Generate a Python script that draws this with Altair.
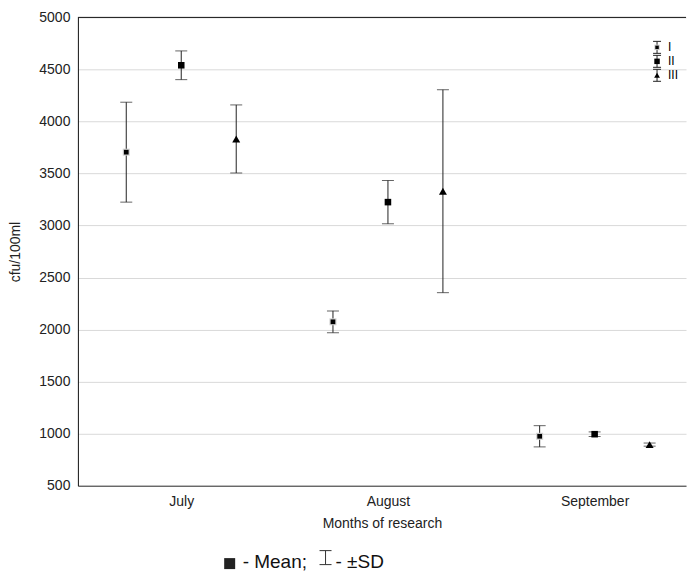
import altair as alt
import pandas as pd

# ---- data ----
months = ["July", "August", "September"]
series = ["I", "II", "III"]
mean_I = [3705, 2075, 975]
sd_I = [480, 105, 102]
mean_II = [4540, 3225, 995]
sd_II = [138, 208, 22]
mean_III = [3832, 3330, 895]
sd_III = [327, 975, 15]
y_ticks = [500, 1000, 1500, 2000, 2500, 3000, 3500, 4000, 4500, 5000]

# ---- layout / style constants ----
W, H = 609, 469
GROUP_OFFSET = 0.266
FONT = "Liberation Sans"
INK = "#222222"

means = {"I": mean_I, "II": mean_II, "III": mean_III}
sds = {"I": sd_I, "II": sd_II, "III": sd_III}
rows = []
for i, m in enumerate(months):
    for j, s in enumerate(series):
        mu, sd = means[s][i], sds[s][i]
        rows.append({"month": m, "series": s, "pos": i + 1 + GROUP_OFFSET * (j - 1),
                     "mean": mu, "lo": mu - sd, "hi": mu + sd})
df = pd.DataFrame(rows)

label_expr = "[" + ",".join("'" + m + "'" for m in months) + "][datum.value - 1]"
xs = alt.Scale(domain=[0.5, 0.5 + W / 207.0], nice=False, zero=False)
ys = alt.Scale(domain=[500, 5000], nice=False, zero=False)

X = alt.X("pos:Q", scale=xs, title="Months of research",
          axis=alt.Axis(values=[1, 2, 3], labelExpr=label_expr, grid=False, ticks=False,
                        labelPadding=9, titlePadding=8, domainColor="#333333"))
Y_axis = alt.Axis(values=y_ticks, grid=True, gridColor="#d9d9d9", ticks=False,
                  labelPadding=8, titlePadding=16, domainColor="#111111", format="d")

base = alt.Chart(df)

bars = base.mark_rule(color=INK, strokeWidth=1).encode(
    x=X, y=alt.Y("lo:Q", scale=ys, axis=Y_axis, title="cfu/100ml"), y2="hi:Q")
cap_lo = base.mark_tick(orient="horizontal", size=12, thickness=1, color=INK).encode(
    x="pos:Q", y="lo:Q")
cap_hi = base.mark_tick(orient="horizontal", size=12, thickness=1, color=INK).encode(
    x="pos:Q", y="hi:Q")

halo = base.transform_filter(alt.datum.series == "I").mark_point(
    shape="square", filled=True, size=49, color="#cfcfcf", opacity=1).encode(
    x="pos:Q", y="mean:Q")
pts = base.mark_point(filled=True, color="black", opacity=1).encode(
    x="pos:Q", y="mean:Q",
    shape=alt.Shape("series:N", scale=alt.Scale(domain=series, range=["square", "square", "triangle-up"]), legend=None),
    size=alt.Size("series:N", scale=alt.Scale(domain=series, range=[22, 64, 72]), legend=None),
)

dummy = alt.Chart(pd.DataFrame({"a": [0]}))
top_line = dummy.mark_rule(color="#111111", strokeWidth=1).encode(
    x=alt.value(0), x2=alt.value(W), y=alt.value(0))

# inset legend (top right)
leg_layers = []
leg_shapes = {"I": ("square", 12), "II": ("square", 30), "III": ("triangle-up", 34)}
for k, s in enumerate(series):
    cy = 30 + 14 * k
    cx = 580
    leg_layers.append(dummy.mark_rule(color=INK).encode(
        x=alt.value(cx), y=alt.value(cy - 6), y2=alt.value(cy + 6)))
    for yy in (cy - 6, cy + 6):
        leg_layers.append(dummy.mark_rule(color=INK).encode(
            x=alt.value(cx - 4), x2=alt.value(cx + 4), y=alt.value(yy)))
    if s == "I":
        leg_layers.append(dummy.mark_point(shape="square", filled=True, size=30,
                                           color="#cfcfcf", opacity=1).encode(
            x=alt.value(cx), y=alt.value(cy)))
    shp, sz = leg_shapes[s]
    leg_layers.append(dummy.mark_point(shape=shp, filled=True, size=sz,
                                       color="black", opacity=1).encode(
        x=alt.value(cx), y=alt.value(cy)))
    leg_layers.append(dummy.mark_text(text=s, align="left", baseline="middle", font=FONT,
                                      fontSize=12, fill="#000000").encode(
        x=alt.value(cx + 11), y=alt.value(cy)))

# caption under the chart
cap_y = H + 76
caption = [
    dummy.mark_point(shape="square", filled=True, size=121, color="#222222", opacity=1).encode(
        x=alt.value(152), y=alt.value(cap_y + 2)),
    dummy.mark_text(text="- Mean;", align="left", baseline="middle", font=FONT,
                    fontSize=19, fill="#111111").encode(x=alt.value(165), y=alt.value(cap_y)),
    dummy.mark_rule(color="#333333").encode(x=alt.value(248), y=alt.value(cap_y - 11), y2=alt.value(cap_y + 3)),
    dummy.mark_rule(color="#333333").encode(x=alt.value(242), x2=alt.value(254), y=alt.value(cap_y - 11)),
    dummy.mark_rule(color="#333333").encode(x=alt.value(242), x2=alt.value(254), y=alt.value(cap_y + 3)),
    dummy.mark_text(text="- ±SD", align="left", baseline="middle", font=FONT,
                    fontSize=19, fill="#111111").encode(x=alt.value(258), y=alt.value(cap_y)),
]

chart = alt.layer(bars, cap_lo, cap_hi, halo, pts, top_line, *leg_layers, *caption).properties(
    width=W, height=H,
    padding={"left": 0, "top": 2, "right": 0, "bottom": 0},
).configure_view(stroke=None).configure_axis(
    labelFont=FONT, labelFontSize=14, labelColor=INK,
    titleFont=FONT, titleFontSize=14, titleColor=INK, titleFontWeight="normal",
    domainWidth=1,
)

chart.save("out.html", embed_options={"renderer": "svg", "actions": False})
